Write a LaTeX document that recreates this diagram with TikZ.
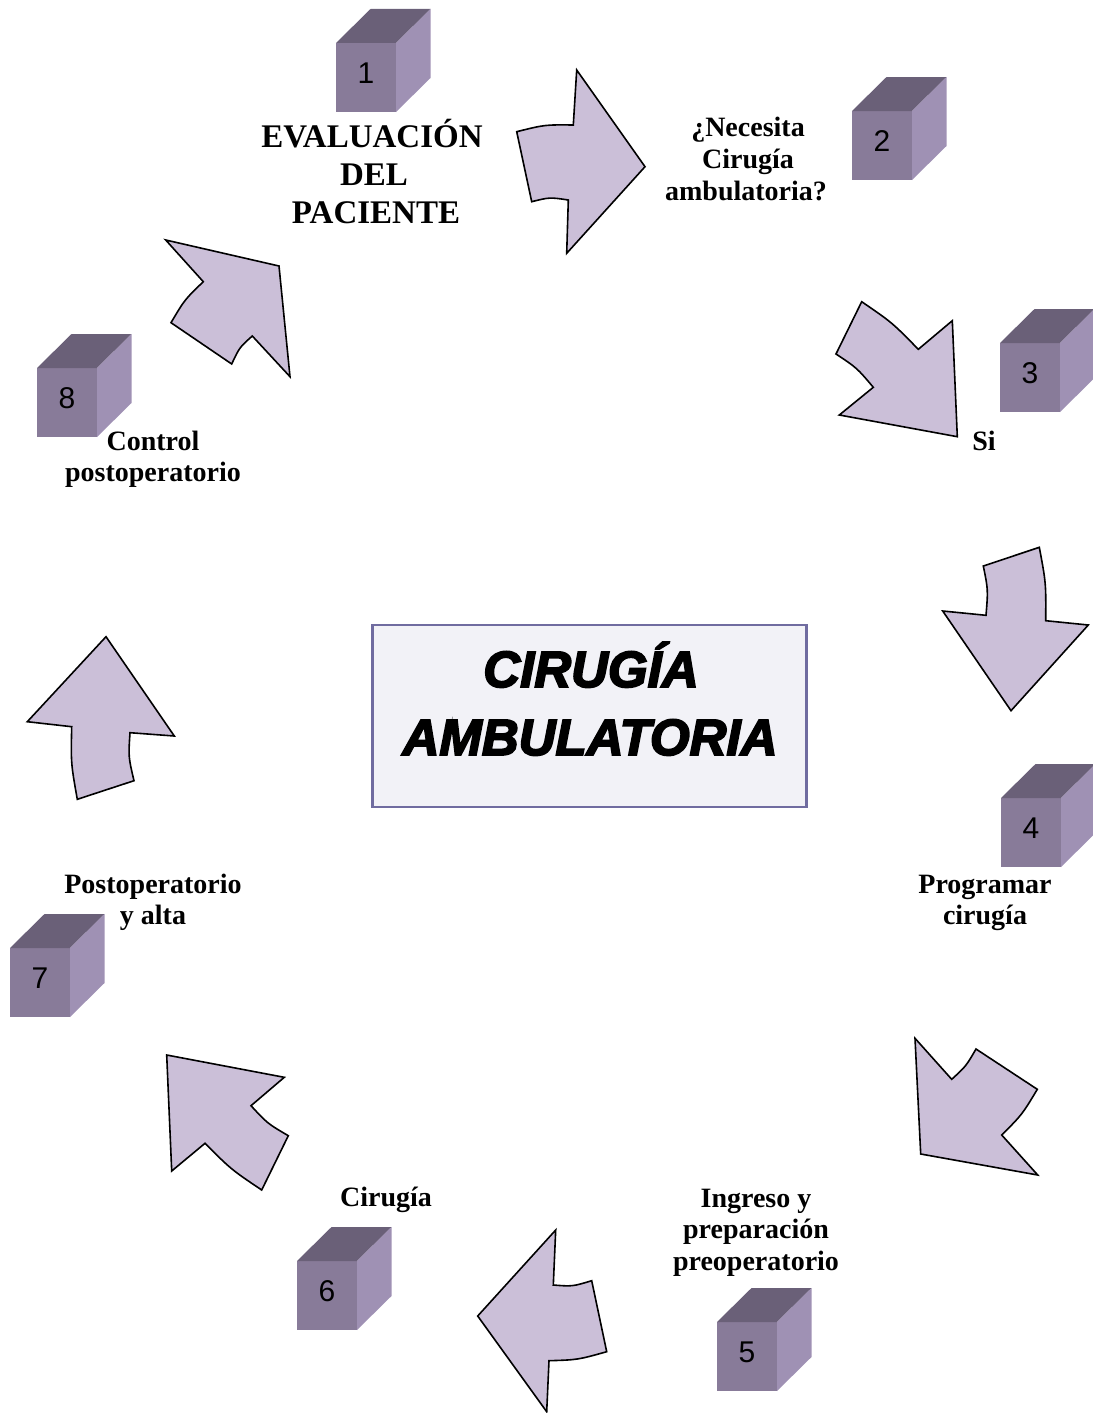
\documentclass[tikz,border=0pt]{standalone}
\usepackage{fontspec}
\setmainfont{Liberation Serif}
\newfontfamily\titlefont{Liberation Sans}
\newfontfamily\numfont{Liberation Sans}
\definecolor{arrowfill}{RGB}{203,191,216}
\definecolor{cubefront}{RGB}{136,123,153}
\definecolor{cubetop}{RGB}{106,96,120}
\definecolor{cuberight}{RGB}{159,145,180}
\definecolor{boxborder}{RGB}{112,108,160}
\definecolor{boxfill}{RGB}{242,242,247}
\newcommand\heavytext[1]{\special{pdf:literal direct 2 Tr 1.8 w}#1\special{pdf:literal direct 0 Tr}}
\tikzset{
  cyclearrow/.style={fill=arrowfill, draw=black, line width=1.6pt, line join=miter},
  lbl/.style={font=\fontsize{28}{32}\selectfont\bfseries, anchor=base, inner sep=0pt},
  biglbl/.style={font=\fontsize{33}{39}\selectfont\bfseries, anchor=base, inner sep=0pt},
  cubenum/.style={font=\numfont\fontsize{30}{36}\selectfont, inner sep=0pt},
  titletext/.style={font=\titlefont\fontsize{51}{60}\selectfont\bfseries\itshape, anchor=base, inner sep=0pt}
}
\newcommand\drawcube[4]{%
  \fill[cubefront] (#2,#3) rectangle ++(60,69);
  \fill[cubetop] (#2,#3) -- ++(34.5,-34) -- ++(60,0) -- ++(-34.5,34) -- cycle;
  \fill[cuberight] (#2+60,#3) -- ++(34.5,-34) -- ++(0,69) -- ++(-34.5,34) -- cycle;
  \node[cubenum] (#1) at (#2+30,#3+30) {#4};
}
\begin{document}
\begin{tikzpicture}[x=1pt,y=-1pt]
\useasboundingbox (0,0) rectangle (1092,1413);

% cubes
\drawcube{c1}{336}{43}{1}
\drawcube{c2}{852}{111}{2}
\drawcube{c3}{1000}{343}{3}
\drawcube{c4}{1001}{798}{4}
\drawcube{c5}{717}{1322}{5}
\drawcube{c6}{297}{1261}{6}
\drawcube{c7}{10}{948}{7}
\drawcube{c8}{37}{368}{8}

% arrows
\draw[cyclearrow] (516.7,131.7) .. controls (544.7,124.7) .. (573.3,125) -- (576.7,70) -- (645,166.7) -- (566.7,253.3) -- (568.3,200) .. controls (549.7,197.2) .. (531.7,201.7) -- cycle;
\draw[cyclearrow] (861.7,301.7) .. controls (892.2,322.6) .. (918.3,349.3) -- (952.3,320.7) -- (957.3,436.7) -- (839.3,415) -- (873.3,387.3) .. controls (856.9,367.9) .. (836,354) -- cycle;
\draw[cyclearrow] (986,615.3) .. controls (988.1,589.6) .. (983.3,566) -- (1039.3,547.3) .. controls (1046,583) .. (1045.7,620.7) -- (1088.3,625) -- (1011,710.7) -- (942.7,611) -- cycle;
\draw[cyclearrow] (915,1038.3) -- (951.7,1079.3) .. controls (966,1066.2) .. (976,1049) -- (1037.3,1089.3) .. controls (1022.1,1114.6) .. (1001.7,1135) -- (1037.7,1175) -- (920.7,1154) -- cycle;
\draw[cyclearrow] (555.7,1230) -- (553.3,1285) .. controls (572.4,1286.5) .. (591.7,1280.7) -- (606.7,1351.7) .. controls (577.8,1359.8) .. (549,1360.7) -- (546.7,1411.7) -- (477.7,1316) -- cycle;
\draw[cyclearrow] (166.7,1055) -- (284.3,1077.3) -- (251,1105.7) .. controls (267.5,1123.5) .. (288.3,1135.7) -- (261.7,1190) .. controls (231.2,1169.5) .. (205,1143.3) -- (171.7,1171) -- cycle;
\draw[cyclearrow] (106,636.7) -- (174.3,736) -- (130,732.7) .. controls (128.4,757) .. (134,780.7) -- (77.3,799.3) .. controls (70.9,763.3) .. (71.7,726.7) -- (27.3,721.7) -- cycle;
\draw[cyclearrow] (165.7,240) -- (279,266) -- (290,376.7) -- (252.3,336) .. controls (239.5,347.4) .. (231.7,364) -- (171,322.7) .. controls (184.7,299.6) .. (203.3,281.7) -- cycle;

% labels
\node[biglbl] (t1a) at (372,147) {EVALUACIÓN};
\node[biglbl] (t1b) at (374,185) {DEL};
\node[biglbl] (t1c) at (376,223) {PACIENTE};
\node[lbl] (t2a) at (748,136) {¿Necesita};
\node[lbl] (t2b) at (748,168) {Cirugía};
\node[lbl] (t2c) at (746,200) {ambulatoria?};
\node[lbl] (t3) at (984,450) {Si};
\node[lbl] (t4a) at (985,893) {Programar};
\node[lbl] (t4b) at (985,924) {cirugía};
\node[lbl] (t5a) at (756,1207) {Ingreso y};
\node[lbl] (t5b) at (756,1238) {preparación};
\node[lbl] (t5c) at (756,1270) {preoperatorio};
\node[lbl] (t6) at (386,1206) {Cirugía};
\node[lbl] (t7a) at (153,893) {Postoperatorio};
\node[lbl] (t7b) at (153,924) {y alta};
\node[lbl] (t8a) at (153,450) {Control};
\node[lbl] (t8b) at (153,481) {postoperatorio};

% center box
\node[draw=boxborder, fill=boxfill, line width=2.5pt, minimum width=434pt, minimum height=181.7pt, inner sep=0pt] (center) at (589.7,715.9) {};
\node[titletext] (ta) at (591,687) {\heavytext{CIRUGÍA}};
\node[titletext] (tb) at (590,755) {\heavytext{AMBULATORIA}};
\end{tikzpicture}
\end{document}
